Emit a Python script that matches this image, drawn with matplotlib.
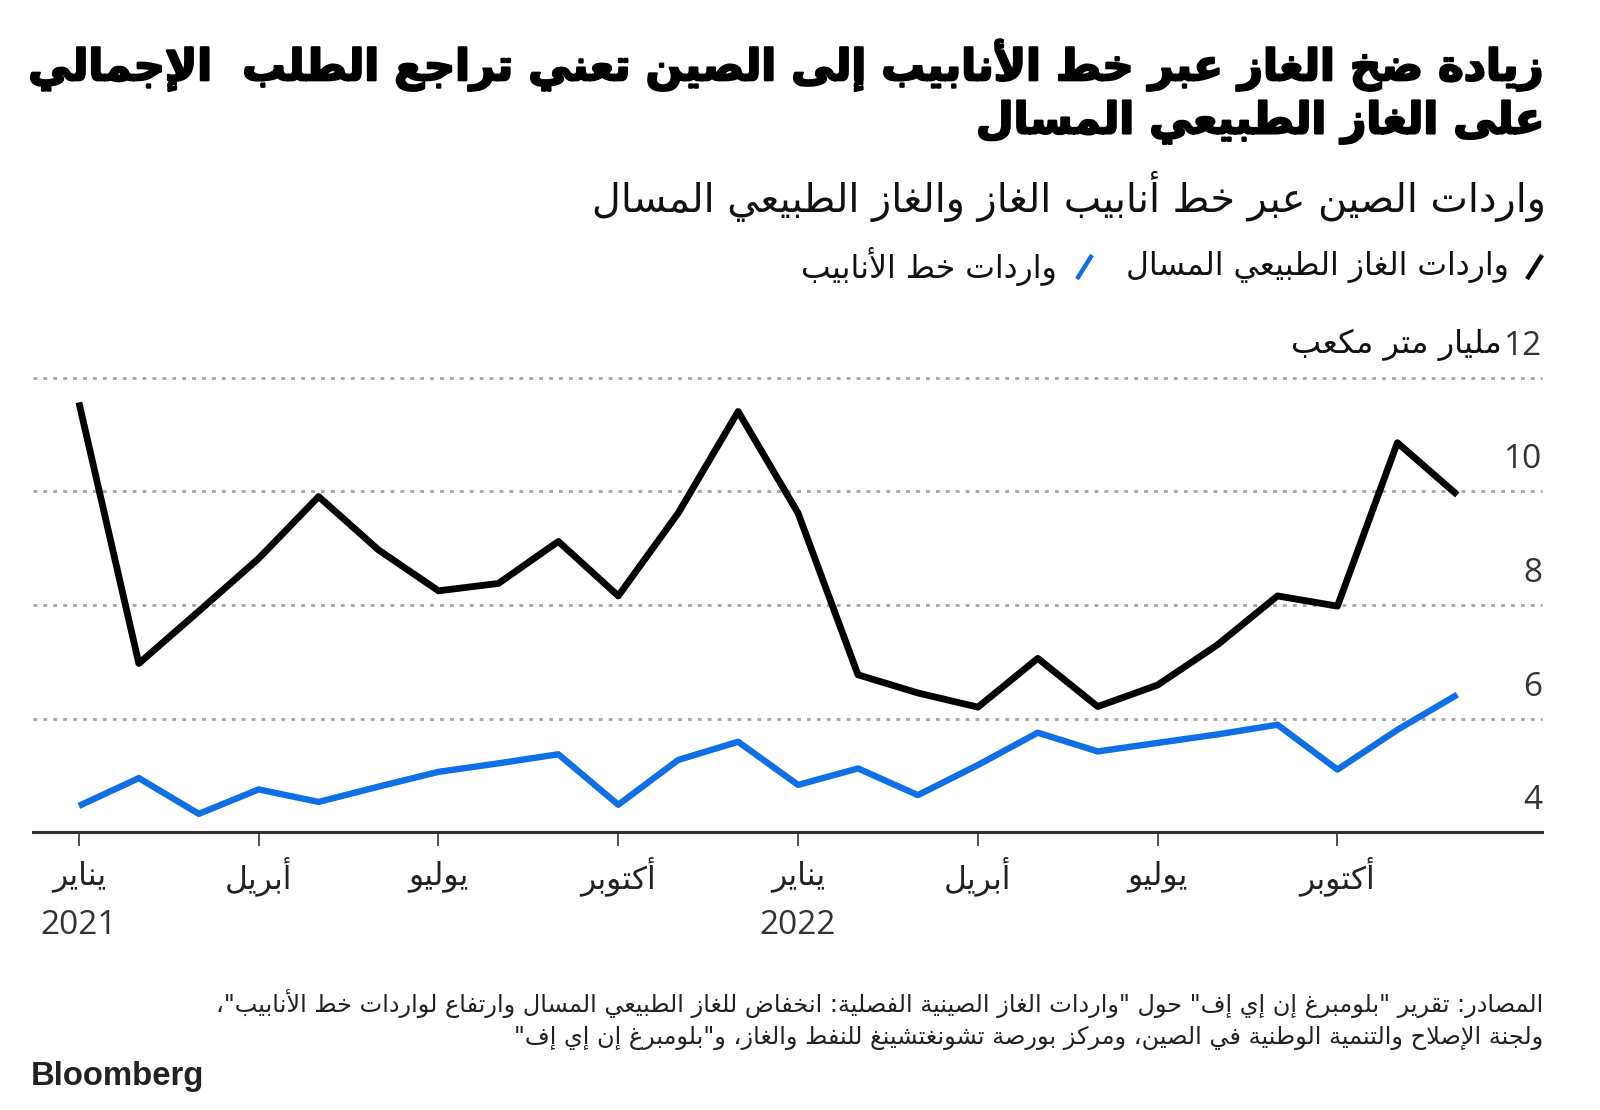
import re
import matplotlib
matplotlib.use('Agg')
import matplotlib.pyplot as plt
import matplotlib.transforms as mtransforms
import matplotlib.patheffects as pe
from matplotlib.lines import Line2D

# ---------------- data ----------------
month_index = list(range(24))  # Jan 2021 .. Dec 2022
lng_imports = [11.57, 6.97, 7.89, 8.82, 9.91, 8.97, 8.25, 8.38, 9.12, 8.16, 9.62, 11.41,
               9.62, 6.77, 6.45, 6.20, 7.06, 6.21, 6.59, 7.30, 8.16, 7.98, 10.86, 9.94]
pipeline_imports = [4.46, 4.95, 4.32, 4.75, 4.53, 4.80, 5.06, 5.21, 5.37, 4.48, 5.27, 5.59,
                    4.83, 5.12, 4.65, 5.18, 5.75, 5.42, 5.57, 5.72, 5.89, 5.10, 5.80, 6.42]
tick_positions = [0, 3, 6, 9, 12, 15, 18, 21]
tick_months = ['يناير', 'أبريل', 'يوليو', 'أكتوبر', 'يناير', 'أبريل', 'يوليو', 'أكتوبر']
year_positions = [0, 12]
year_labels = ['2021', '2022']
y_ticks = [4, 6, 8, 10, 12]

title_1 = 'زيادة ضخ الغاز عبر خط الأنابيب إلى الصين تعني تراجع الطلب  الإجمالي'
title_2 = 'على الغاز الطبيعي المسال'
subtitle = 'واردات الصين عبر خط أنابيب الغاز والغاز الطبيعي المسال'
legend_lng = 'واردات الغاز الطبيعي المسال'
legend_pipe = 'واردات خط الأنابيب'
unit_label = 'مليار متر مكعب'
footer_1 = 'المصادر: تقرير "بلومبرغ إن إي إف" حول "واردات الغاز الصينية الفصلية: انخفاض للغاز الطبيعي المسال وارتفاع لواردات خط الأنابيب"،'
footer_2 = 'ولجنة الإصلاح والتنمية الوطنية في الصين، ومركز بورصة تشونغتشينغ للنفط والغاز، و"بلومبرغ إن إي إف"'

LNG_COLOR = '#000000'
PIPE_COLOR = '#0f6fe6'

# ---------------- Arabic shaping (presentation forms) + visual order ----------------
_TWO = {'\u0622': 0xFE81, '\u0623': 0xFE83, '\u0624': 0xFE85, '\u0625': 0xFE87,
        '\u0627': 0xFE8D, '\u0629': 0xFE93, '\u062F': 0xFEA9, '\u0630': 0xFEAB,
        '\u0631': 0xFEAD, '\u0632': 0xFEAF, '\u0648': 0xFEED, '\u0649': 0xFEEF}
_FOUR = {'\u0626': 0xFE89, '\u0628': 0xFE8F, '\u062A': 0xFE95, '\u062B': 0xFE99,
         '\u062C': 0xFE9D, '\u062D': 0xFEA1, '\u062E': 0xFEA5, '\u0633': 0xFEB1,
         '\u0634': 0xFEB5, '\u0635': 0xFEB9, '\u0636': 0xFEBD, '\u0637': 0xFEC1,
         '\u0638': 0xFEC5, '\u0639': 0xFEC9, '\u063A': 0xFECD, '\u0641': 0xFED1,
         '\u0642': 0xFED5, '\u0643': 0xFED9, '\u0644': 0xFEDD, '\u0645': 0xFEE1,
         '\u0646': 0xFEE5, '\u0647': 0xFEE9, '\u064A': 0xFEF1}
_LAMALEF = {'\u0622': 0xFEF5, '\u0623': 0xFEF7, '\u0625': 0xFEF9, '\u0627': 0xFEFB}


def _shape(s):
    toks = []
    i = 0
    while i < len(s):
        c = s[i]
        if c == '\u0644' and i + 1 < len(s) and s[i + 1] in _LAMALEF:
            toks.append(('LA', s[i + 1]))
            i += 2
        else:
            toks.append(('C', c))
            i += 1

    def dual(t):
        return t[0] == 'C' and t[1] in _FOUR

    def joining(t):
        return t[0] == 'LA' or t[1] in _FOUR or t[1] in _TWO

    out = []
    for k, t in enumerate(toks):
        prev = toks[k - 1] if k > 0 else None
        nxt = toks[k + 1] if k + 1 < len(toks) else None
        cp = prev is not None and dual(prev) and joining(t)
        if t[0] == 'LA':
            out.append(chr(_LAMALEF[t[1]] + (1 if cp else 0)))
            continue
        c = t[1]
        if c in _FOUR:
            cn = nxt is not None and joining(nxt)
            b = _FOUR[c]
            out.append(chr(b + (3 if (cp and cn) else 1 if cp else 2 if cn else 0)))
        elif c in _TWO:
            out.append(chr(_TWO[c] + (1 if cp else 0)))
        else:
            out.append(c)
    return ''.join(out)


def ar(s):
    parts = re.findall(r'[0-9A-Za-z]+|.', _shape(s))
    return ''.join(reversed(parts))


# ---------------- figure ----------------
plt.rcParams['font.family'] = ['DejaVu Sans']
W, H = 1600, 1110
fig = plt.figure(figsize=(W / 100, H / 100), dpi=100)
fig.patch.set_facecolor('white')
renderer = fig.canvas.get_renderer()


def ftext(x_px, y_px, s, ha='right', va='center', width=None, **kw):
    t = fig.text(x_px / W, 1 - y_px / H, s, ha=ha, va=va, **kw)
    if width is not None:
        w = t.get_window_extent(renderer).width
        t.set_fontsize(t.get_fontsize() * width / w)
    return t


# titles (slight stroke to approach the heavy headline face)
heavy = [pe.withStroke(linewidth=1.6, foreground='#000000')]
t1 = ftext(1545, 65, ar(title_1), width=1514, fontsize=30, fontweight='bold', color='#000000')
t1.set_path_effects(heavy)
t2 = ftext(1545, 122, ar(title_2), fontsize=t1.get_fontsize(), fontweight='bold', color='#000000')
t2.set_path_effects(heavy)
ftext(1546, 196, ar(subtitle), width=959, fontsize=24, color='#111111')

# legend
lt = ftext(1509, 267, ar(legend_lng), width=383, fontsize=18, color='#111111')
ftext(1057, 267, ar(legend_pipe), fontsize=lt.get_fontsize(), color='#111111')
fig.add_artist(Line2D([1527 / W, 1542 / W], [1 - 279 / H, 1 - 255 / H], color=LNG_COLOR,
                      lw=3.2, solid_capstyle='butt'))
fig.add_artist(Line2D([1077 / W, 1092 / W], [1 - 279 / H, 1 - 255 / H], color=PIPE_COLOR,
                      lw=3.2, solid_capstyle='butt'))

# unit label next to top tick
ftext(1502, 345, ar(unit_label), width=210, fontsize=18, color='#111111')

# ---------------- axes ----------------
ax_left, ax_right = 33.4, 1542.0
y_bottom_px = 832.0
unit_px = 56.75
y_top_val = 12.2
y_top_px = y_bottom_px - (y_top_val - 4) * unit_px
ax = fig.add_axes([ax_left / W, 1 - y_bottom_px / H, (ax_right - ax_left) / W,
                   (y_bottom_px - y_top_px) / H])
ax.set_facecolor('none')
month_px = 59.93
x0_px = 78.9
ax.set_xlim(-(x0_px - ax_left) / month_px, 23 + (ax_right - (x0_px + 23 * month_px)) / month_px)
ax.set_ylim(4, y_top_val)

for sp in ['top', 'left', 'right']:
    ax.spines[sp].set_visible(False)
ax.spines['bottom'].set_color('#333333')
ax.spines['bottom'].set_linewidth(2.2)
ax.set_yticks([])
ax.set_xticks(tick_positions)
ax.set_xticklabels([])
ax.tick_params(axis='x', direction='out', length=10, width=1.2, color='#333333')

for v in y_ticks[1:]:
    ax.axhline(v, color='#a8a8a8', lw=2.1, linestyle=(0, (1.3, 2.1)), zorder=1, clip_on=False)

ax.plot(month_index, pipeline_imports, color=PIPE_COLOR, lw=4.6, zorder=3, clip_on=False,
        solid_joinstyle='round', solid_capstyle='butt')
ax.plot(month_index, lng_imports, color=LNG_COLOR, lw=4.9, zorder=4, clip_on=False,
        solid_joinstyle='round', solid_capstyle='butt')

# y tick labels (above gridlines, right aligned)
yl_tr = mtransforms.blended_transform_factory(ax.transAxes, ax.transData) + \
    mtransforms.ScaledTranslation(0, 23 / 100, fig.dpi_scale_trans)
for v in y_ticks:
    ax.text(1.0, v, str(v), transform=yl_tr, ha='right', va='baseline',
            fontsize=24, family=['Open Sans', 'DejaVu Sans'], color='#333333')

# x labels
xf_tr = mtransforms.blended_transform_factory(ax.transData, fig.transFigure)
probe = fig.text(0, 0, ar('يناير'), fontsize=20)
mfs = 20 * 54 / probe.get_window_extent(renderer).width
probe.remove()
for p, m in zip(tick_positions, tick_months):
    ax.text(p, 1 - 876 / H, ar(m), transform=xf_tr, ha='center', va='center',
            fontsize=mfs, color='#222222')
for p, yl in zip(year_positions, year_labels):
    ax.text(p, 1 - 925 / H, yl, transform=xf_tr, ha='center', va='center',
            fontsize=24, family=['Open Sans', 'DejaVu Sans'], color='#333333')

# footer
f1 = ftext(1543, 1004, ar(footer_1), width=1339, fontsize=14, color='#222222')
ftext(1543, 1038, ar(footer_2), fontsize=f1.get_fontsize(), color='#222222')
ftext(31, 1077, 'Bloomberg', ha='left', width=173, fontsize=20, fontweight='bold',
      family=['Liberation Sans', 'DejaVu Sans'], color='#222222')

fig.savefig('out.png', dpi=100, facecolor='white')
